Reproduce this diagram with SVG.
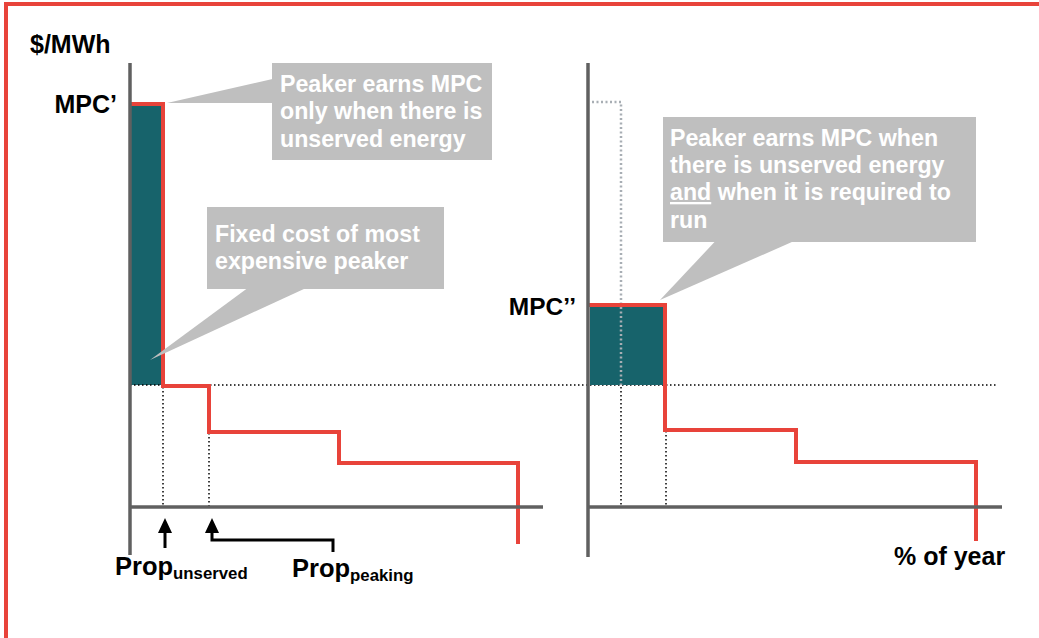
<svg xmlns="http://www.w3.org/2000/svg" xmlns:xlink="http://www.w3.org/1999/xlink" width="1039" height="638" viewBox="0 0 1039 638">
  <defs>
    <style>
      .axis { stroke: #606060; stroke-width: 3.5; fill: none; }
      .curve { stroke: #e8433a; stroke-width: 4; fill: none; stroke-linejoin: miter; }
      .dot { stroke: #000; stroke-width: 1.5; stroke-dasharray: 1.5 2.5; fill: none; }
      .dotgray { stroke: #a8aeb4; stroke-width: 2.5; stroke-dasharray: 2 2.5; fill: none; }
      .fill { fill: #17636b; }
      .box { fill: #bfbfbf; }
      .note { font-family: "Liberation Sans", Arial, sans-serif; font-weight: bold; font-size: 23.2px; fill: #ffffff; }
      .lbl { font-family: "Liberation Sans", Arial, sans-serif; font-weight: bold; fill: #000; }
      .arrow { stroke: #000; stroke-width: 3; fill: none; }
    </style>
    <!-- upward arrowhead, tip at origin -->
    <path id="head" d="M0,0 L7,15 L-7,15 Z" fill="#000"/>
  </defs>

  <rect width="1039" height="638" fill="#ffffff"/>

  <!-- page frame -->
  <g id="frame">
    <line x1="6" y1="4" x2="1039" y2="4" stroke="#e8433a" stroke-width="4"/>
    <line x1="6" y1="2" x2="6" y2="638" stroke="#e8433a" stroke-width="4"/>
  </g>

  <!-- left chart: price duration with unserved energy -->
  <g id="chart-left">
    <rect class="fill" x="131" y="104" width="32" height="281"/>
    <line class="dot" x1="130" y1="385" x2="997" y2="385"/>
    <line class="dot" x1="163" y1="387" x2="163" y2="506"/>
    <line class="dot" x1="209" y1="433" x2="209" y2="506"/>
    <polyline class="curve" points="130,104 163,104 163,386 209,386 209,432 339,432 339,463 518,463 518,544"/>
    <line class="axis" x1="130" y1="63" x2="130" y2="555"/>
    <line class="axis" x1="130" y1="507" x2="543" y2="507"/>
  </g>

  <!-- right chart: price duration with required running -->
  <g id="chart-right">
    <rect class="fill" x="590" y="305" width="75" height="80"/>
    <polyline class="dotgray" points="592,102 621,102 621,385"/>
    <line class="dot" x1="621" y1="387" x2="621" y2="506"/>
    <line class="dot" x1="666" y1="431" x2="666" y2="506"/>
    <polyline class="curve" points="588,305 665,305 665,430 796,430 796,462 976,462 976,541"/>
    <line class="axis" x1="588" y1="63" x2="588" y2="557"/>
    <line class="axis" x1="588" y1="507" x2="1002" y2="507"/>
  </g>

  <!-- axis and level labels -->
  <g id="labels">
    <text class="lbl" x="30" y="53" font-size="25">$/MWh</text>
    <text class="lbl" x="117" y="113" font-size="25" text-anchor="end">MPC’</text>
    <text class="lbl" x="576" y="315" font-size="24.5" text-anchor="end">MPC’’</text>
    <text class="lbl" x="894" y="565" font-size="25">% of year</text>
    <text class="lbl" x="115" y="575" font-size="25.5">Prop<tspan font-size="16.8" dy="4">unserved</tspan></text>
    <text class="lbl" x="292" y="577" font-size="25.5">Prop<tspan font-size="16.8" dy="4">peaking</tspan></text>
  </g>

  <!-- callout boxes -->
  <g id="callout-unserved">
    <rect class="box" x="272" y="63" width="220" height="97"/>
    <text class="note" x="280" y="92">Peaker earns MPC</text>
    <text class="note" x="280" y="119">only when there is</text>
    <text class="note" x="280" y="147">unserved energy</text>
  </g>
  <g id="callout-fixed-cost">
    <rect class="box" x="207" y="207" width="237" height="82"/>
    <text class="note" x="215" y="242">Fixed cost of most</text>
    <text class="note" x="215" y="269">expensive peaker</text>
  </g>
  <g id="callout-required">
    <rect class="box" x="663" y="117" width="313" height="125"/>
    <text class="note" x="670" y="146">Peaker earns MPC when</text>
    <text class="note" x="670" y="173">there is unserved energy</text>
    <text class="note" x="670" y="200"><tspan text-decoration="underline">and</tspan> when it is required to</text>
    <text class="note" x="670" y="228">run</text>
  </g>

  <!-- connectors: callout pointers and axis arrows -->
  <g id="connectors">
    <polygon class="box" points="272.5,79 167,103 272.5,103"/>
    <polygon class="box" points="247,288.5 150,360 305,288.5"/>
    <polygon class="box" points="715,241.5 660,300 793,241.5"/>
    <line class="arrow" x1="165" y1="548" x2="165" y2="530"/>
    <use href="#head" xlink:href="#head" x="165" y="518"/>
    <polyline class="arrow" points="333,552 333,540 212,540 212,530"/>
    <use href="#head" xlink:href="#head" x="212" y="518"/>
  </g>
</svg>
